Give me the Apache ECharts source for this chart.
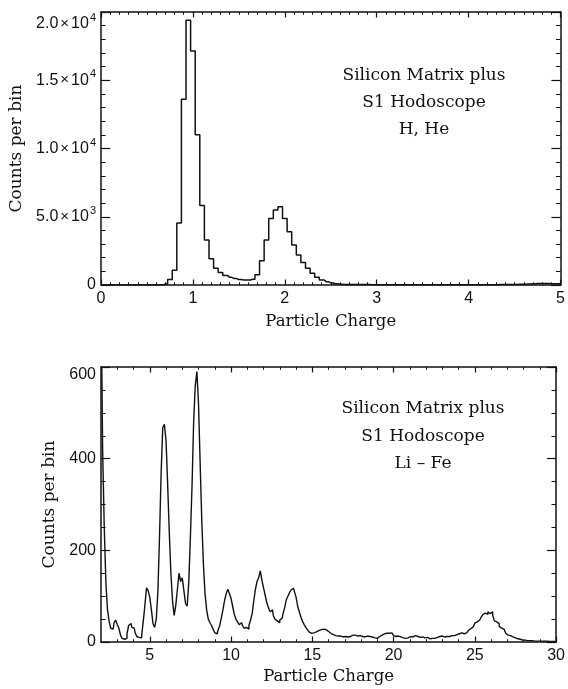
<!DOCTYPE html>
<html><head><meta charset="utf-8">
<script src="https://cdn.jsdelivr.net/npm/echarts@6/dist/echarts.min.js"></script>
<style>html,body{margin:0;padding:0;background:#fff}#c{width:568px;height:689px}</style>
</head><body><div id="c"></div>
<script>
// ---- Upper panel: H, He (bins of 0.05 in charge, centred on multiples of 0.05) ----
const topBinStart = 0;
const topBinWidth = 0.05;
const topCounts = [
  0,0,0,0,0,0,0,0,0,0,            // 0.00-0.45
  0,0,0,10,70,400,1080,4550,13600,19400, // 0.50-0.95
  17150,11000,5830,3300,1920,1220,920,700,560,470, // 1.00-1.45
  400,370,370,420,760,1780,3300,4880,5500,5740,   // 1.50-1.95
  4880,3900,2930,2200,1640,1220,860,560,370,245,  // 2.00-2.45
  150,90,60,45,40,35,32,30,28,26,                 // 2.50-2.95
  25,24,22,22,20,20,20,18,18,18,                  // 3.00-3.45
  18,18,18,18,18,18,20,20,20,20,                  // 3.50-3.95
  22,22,22,22,24,24,26,28,30,35,                  // 4.00-4.45
  40,50,60,75,90,105,115,110,100,95,              // 4.50-4.95
  90                                              // 5.00
];
const topYMantissa = ['0','5.0','1.0','1.5','2.0'];
const topYExponent = ['','3','4','4','4'];
const topXTickLabels = ['0','1','2','3','4','5'];

// ---- Lower panel: Li - Fe (bins of 0.1 in charge) ----
const botBinStart = 2.05;
const botBinWidth = 0.1;
const botCounts = [
  600,420,250,130,70,45,30,28,42,48,      // 2.05-2.95
  38,30,15,8,6,8,18,36,40,32,             // 3.05-3.95
  30,20,12,10,9,14,45,80,118,112,         // 4.05-4.95
  98,70,40,32,50,110,230,370,468,475,     // 5.05-5.95
  440,345,240,150,90,58,80,115,150,132,   // 6.05-6.95
  140,112,84,78,130,230,340,480,560,590,  // 7.05-7.95
  520,390,265,170,105,70,50,42,36,28,     // 8.05-8.95
  20,18,26,35,52,70,90,105,115,106,       // 9.05-9.95
  95,78,60,50,44,38,42,36,30,32,          // 10.05-10.95
  28,36,48,62,90,115,132,140,155,135,     // 11.05-11.95
  118,102,86,75,66,70,58,50,46,42,        // 12.05-12.95
  48,52,62,75,92,100,108,114,117,110,     // 13.05-13.95
  98,78,66,54,45,38,32,27,22,19,          // 14.05-14.95
  20,23,22,25,24,27,28,26,27,23,          // 15.05-15.95
  20,19,16,17,14,13,12,13,11,10,          // 16.05-16.95
  12,11,13,12,15,14,15,13,16,14,          // 17.05-17.95
  12,13,11,13,14,12,11,10,9,8,            // 18.05-18.95
  9,12,15,17,18,19,21,19,20,17,           // 19.05-19.95
  14,12,13,10,11,9,10,8,9,11,             // 20.05-20.95
  12,11,13,14,12,11,10,11,10,9,           // 21.05-21.95
  10,9,7,8,9,8,10,11,12,13,               // 22.05-22.95
  12,11,12,13,12,14,13,14,16,17,          // 23.05-23.95
  18,20,19,18,20,23,25,29,33,37,          // 24.05-24.95
  41,44,48,52,55,60,63,60,66,62,          // 25.05-25.95
  66,58,46,44,40,34,30,28,25,19,          // 26.05-26.95
  15,14,12,11,9,8,7,6,5,4,                // 27.05-27.95
  4,3,3,3,3,3,2,3,2,2,                    // 28.05-28.95
  2,2,2,2,2,1,1,1,1,1                     // 29.05-29.95
];
const botXMajor = [5,10,15,20,25,30];
const botXMinor = [3,4,6,7,8,9,11,12,13,14,16,17,18,19,21,22,23,24,26,27,28,29];
const botYTickLabels = ['0','200','400','600'];

const annotTop = ['Silicon Matrix plus','S1 Hodoscope','H, He'];
const annotBot = ['Silicon Matrix plus','S1 Hodoscope','Li \u2013 Fe'];

const INK = '#111';
const SANS = '"Liberation Sans", Arial, sans-serif';
const SERIF = '"DejaVu Serif", serif';

const topData = topCounts.map((v,i)=>[topBinStart + i*topBinWidth, v]);
const botData = botCounts.map((v,i)=>[botBinStart + i*botBinWidth, v]);

const axLine = {show:true, onZero:false, lineStyle:{color:INK, width:1.5}};
const noLine = {show:false, onZero:false};
const titleStyle = {color:INK,fontFamily:SERIF,fontSize:16.5};
function frameX(grid, pos, opts, labels){
  return Object.assign({
    type:'value', gridIndex:grid, position:pos,
    axisLine:axLine, splitLine:{show:false},
    axisLabel:{show:labels, color:INK, fontFamily:SANS, fontSize:16, margin:6},
    axisTick:{show:true, inside:true, length:5.5, lineStyle:{color:INK, width:1.2}},
  }, opts);
}
const chart = echarts.init(document.getElementById('c'), null, {renderer:'canvas'});
const option = {
  backgroundColor:'#fff',
  animation:false,
  grid:[
    {left:101, right:6, top:12, height:273},
    {left:101, right:6, top:367, height:275}
  ],
  xAxis:[
    frameX(0,'bottom',{min:0,max:5,interval:1,
      minorTick:{show:true,splitNumber:10,length:2.75,lineStyle:{color:INK,width:1}},
      name:'Particle Charge', nameLocation:'middle', nameGap:28,
      nameTextStyle:titleStyle,
      axisLabel:{show:true,color:INK,fontFamily:SANS,fontSize:16,margin:6,
        formatter:(v)=>topXTickLabels[Math.round(v)]}}, true),
    frameX(0,'top',{min:0,max:5,interval:1,
      minorTick:{show:true,splitNumber:10,length:2.75,lineStyle:{color:INK,width:1}}}, false),
    frameX(1,'bottom',{min:2,max:30,
      name:'Particle Charge', nameLocation:'middle', nameGap:26,
      nameTextStyle:titleStyle,
      axisTick:{show:true,inside:true,length:5.5,customValues:botXMajor,lineStyle:{color:INK,width:1.2}},
      axisLabel:{show:true,color:INK,fontFamily:SANS,fontSize:16,margin:6,customValues:botXMajor}}, true),
    frameX(1,'bottom',{min:2,max:30,axisLine:noLine,
      axisTick:{show:true,inside:true,length:2.75,customValues:botXMinor,lineStyle:{color:INK,width:1}}}, false),
    frameX(1,'top',{min:2,max:30,
      axisTick:{show:true,inside:true,length:5.5,customValues:botXMajor,lineStyle:{color:INK,width:1.2}}}, false),
    frameX(1,'top',{min:2,max:30,axisLine:noLine,
      axisTick:{show:true,inside:true,length:2.75,customValues:botXMinor,lineStyle:{color:INK,width:1}}}, false)
  ],
  yAxis:[
    {type:'value', gridIndex:0, position:'left', min:0, max:20000, interval:5000,
      axisLine:axLine, splitLine:{show:false},
      axisTick:{show:true,inside:true,length:9.2,lineStyle:{color:INK,width:1.2}},
      minorTick:{show:true,splitNumber:5,length:4.6,lineStyle:{color:INK,width:1}},
      name:'Counts per bin', nameLocation:'middle', nameGap:75, nameRotate:90,
      nameTextStyle:Object.assign({}, titleStyle, {fontSize:17}),
      axisLabel:{show:true, margin:5, color:INK, verticalAlignMaxLabel:'top',
        formatter:(v)=>{const i=Math.round(v/5000); return topYExponent[i]? '{m|'+topYMantissa[i]+'}{x|\u00d7}{m|10}{e|'+topYExponent[i]+'}' : '{m|'+topYMantissa[i]+'}';},
        rich:{
          m:{fontFamily:SANS,fontSize:16,color:INK},
          x:{fontFamily:SANS,fontSize:15,color:INK,padding:[0,2,0,2]},
          e:{fontFamily:SANS,fontSize:11,color:INK,padding:[0,0,12,1]}
        }}},
    {type:'value', gridIndex:0, position:'right', min:0, max:20000, interval:5000,
      axisLine:axLine, splitLine:{show:false}, axisLabel:{show:false},
      axisTick:{show:true,inside:true,length:9.2,lineStyle:{color:INK,width:1.2}},
      minorTick:{show:true,splitNumber:5,length:4.6,lineStyle:{color:INK,width:1}}},
    {type:'value', gridIndex:1, position:'left', min:0, max:600, interval:200,
      axisLine:axLine, splitLine:{show:false},
      axisTick:{show:true,inside:true,length:9.2,lineStyle:{color:INK,width:1.2}},
      minorTick:{show:true,splitNumber:4,length:4.6,lineStyle:{color:INK,width:1}},
      name:'Counts per bin', nameLocation:'middle', nameGap:43, nameRotate:90,
      nameTextStyle:Object.assign({}, titleStyle, {fontSize:17}),
      axisLabel:{show:true, margin:5, color:INK, fontFamily:SANS, fontSize:16, verticalAlignMaxLabel:'top',
        formatter:(v)=>botYTickLabels[Math.round(v/200)]}},
    {type:'value', gridIndex:1, position:'right', min:0, max:600, interval:200,
      axisLine:axLine, splitLine:{show:false}, axisLabel:{show:false},
      axisTick:{show:true,inside:true,length:9.2,lineStyle:{color:INK,width:1.2}},
      minorTick:{show:true,splitNumber:4,length:4.6,lineStyle:{color:INK,width:1}}}
  ],
  series:[
    {type:'line', xAxisIndex:0, yAxisIndex:0, data:topData, step:'middle',
      showSymbol:false, symbol:'none', clip:true, lineStyle:{color:INK,width:1.5}},
    {type:'line', xAxisIndex:2, yAxisIndex:2, data:botData, step:'middle',
      showSymbol:false, symbol:'none', clip:true, lineStyle:{color:INK,width:1.4}}
  ],
  graphic:[]
};
const topY=[76,103,130], botY=[409,437,464];
annotTop.forEach((t,i)=>option.graphic.push({type:'text',x:424,y:topY[i],
  style:{text:t,textAlign:'center',textVerticalAlign:'middle',font:'17px "DejaVu Serif", serif',fill:INK}}));
annotBot.forEach((t,i)=>option.graphic.push({type:'text',x:423,y:botY[i],
  style:{text:t,textAlign:'center',textVerticalAlign:'middle',font:'17px "DejaVu Serif", serif',fill:INK}}));
chart.setOption(option);
</script>
</body></html>
